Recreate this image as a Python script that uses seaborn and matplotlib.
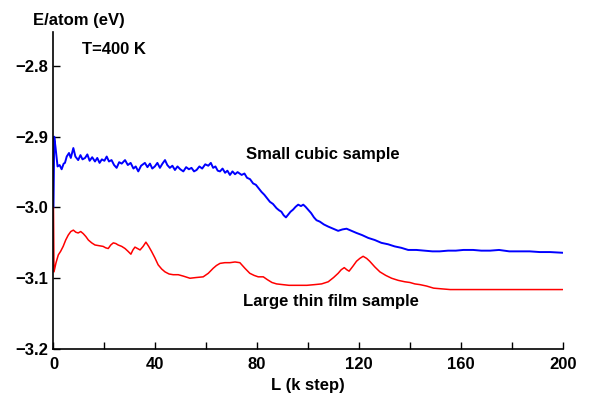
import matplotlib
matplotlib.use("Agg")
import matplotlib.pyplot as plt
import seaborn as sns
import pandas as pd
from matplotlib.ticker import MultipleLocator

# ---- data ----
blue_x = [0, 0.3, 0.8, 1.6, 2.4, 3.2, 4.0, 4.5, 5.2, 6.1, 6.8, 7.8, 8.6, 9.7, 10.6, 11.4, 12.4,
          13.3, 14.2, 15.2, 16.3, 17.2, 18.1, 19.0, 20.0, 20.9, 21.8, 22.8, 23.8, 24.8, 25.8,
          26.8, 28.1, 29.2, 30.3, 31.4, 32.3, 33.3, 34.4, 35.9, 36.9, 37.9, 38.8, 39.8, 40.8,
          41.8, 42.8, 43.8, 44.7, 45.7, 46.7, 47.7, 48.7, 49.8, 51.0, 52.1, 53.2, 54.2, 55.2,
          56.2, 57.3, 58.4, 59.6, 60.8, 61.8, 62.7, 63.6, 64.5, 65.4, 66.4, 67.4, 68.3, 69.3,
          70.3, 71.3, 72.3, 73.9, 75.0, 76.0, 77.2, 78.4, 79.5, 80.6, 81.7, 82.8, 83.9, 85.0,
          86.2, 87.6, 88.6, 89.5, 90.4, 91.3, 92.2, 93.1, 94.1, 95.1, 96.1, 97.2, 98.1, 99.0,
          100.0, 101.2, 102.3, 103.3, 104.6, 106.2, 107.9, 109.8, 111.8, 113.5, 115.1, 117.0,
          119.0, 121.2, 123.6, 126.2, 128.8, 131.4, 134.0, 136.6, 139.3, 142.5, 145.8, 148.8,
          151.7, 155.0, 158.0, 161.0, 164.8, 168.0, 171.5, 175.0, 179.0, 183.1, 187.0, 191.0,
          195.0, 200.0]
blue_y = [-3.000, -2.900, -2.915, -2.942, -2.940, -2.946, -2.938, -2.937, -2.928, -2.923, -2.930,
          -2.916, -2.928, -2.933, -2.926, -2.932, -2.930, -2.925, -2.934, -2.929, -2.935, -2.930,
          -2.937, -2.932, -2.934, -2.928, -2.935, -2.933, -2.940, -2.944, -2.936, -2.938, -2.933,
          -2.940, -2.937, -2.945, -2.942, -2.949, -2.941, -2.937, -2.943, -2.938, -2.945, -2.942,
          -2.937, -2.944, -2.938, -2.933, -2.940, -2.944, -2.941, -2.947, -2.942, -2.946, -2.949,
          -2.943, -2.946, -2.944, -2.949, -2.947, -2.942, -2.945, -2.939, -2.941, -2.937, -2.944,
          -2.942, -2.948, -2.949, -2.945, -2.951, -2.948, -2.954, -2.949, -2.953, -2.950, -2.954,
          -2.952, -2.958, -2.960, -2.966, -2.968, -2.973, -2.978, -2.982, -2.987, -2.992, -2.995,
          -3.001, -3.004, -3.006, -3.011, -3.014, -3.010, -3.006, -3.003, -2.999, -2.996, -2.998,
          -2.996, -2.999, -3.003, -3.008, -3.014, -3.018, -3.020, -3.024, -3.027, -3.030, -3.033,
          -3.031, -3.030, -3.033, -3.036, -3.039, -3.043, -3.046, -3.050, -3.052, -3.055, -3.057,
          -3.060, -3.060, -3.061, -3.062, -3.062, -3.061, -3.061, -3.060, -3.060, -3.061, -3.061,
          -3.060, -3.062, -3.062, -3.062, -3.063, -3.063, -3.064]

red_x = [0, 0.2, 1.0, 1.9, 2.8, 3.8, 4.8, 5.8, 6.8, 7.8, 8.8, 9.7, 10.7, 11.7, 12.7, 13.7, 15.0,
         16.3, 17.9, 19.5, 20.5, 21.5, 22.5, 23.5, 24.5, 25.4, 26.8, 28.1, 29.3, 30.4, 31.2,
         32.0, 33.0, 34.0, 35.2, 36.3, 37.4, 38.5, 39.8, 41.1, 42.5, 43.8, 45.4, 47.0, 49.0,
         51.0, 53.6, 56.0, 58.8, 60.8, 62.7, 64.0, 65.4, 67.3, 69.3, 71.3, 73.2, 75.2, 77.1,
         78.8, 80.4, 82.4, 84.0, 85.8, 87.6, 90.0, 92.5, 94.8, 97.0, 99.5, 102.6, 105.3, 107.9,
         110.0, 111.8, 113.0, 114.2, 115.2, 116.1, 117.6, 119.0, 120.3, 121.6, 123.0, 124.2,
         126.2, 128.2, 130.5, 132.8, 135.4, 138.0, 140.0, 141.9, 143.9, 146.5, 149.3, 152.5,
         155.8, 160.0, 200.0]
red_y = [-3.000, -3.091, -3.078, -3.067, -3.062, -3.055, -3.046, -3.039, -3.034, -3.032, -3.035,
         -3.036, -3.034, -3.037, -3.041, -3.046, -3.050, -3.053, -3.054, -3.055, -3.057, -3.058,
         -3.053, -3.050, -3.051, -3.053, -3.055, -3.058, -3.062, -3.066, -3.060, -3.056, -3.058,
         -3.060, -3.055, -3.049, -3.055, -3.062, -3.071, -3.081, -3.087, -3.091, -3.094, -3.095,
         -3.095, -3.097, -3.100, -3.099, -3.098, -3.093, -3.086, -3.082, -3.079, -3.078, -3.078,
         -3.077, -3.078, -3.086, -3.093, -3.096, -3.098, -3.098, -3.102, -3.106, -3.108, -3.109,
         -3.110, -3.110, -3.110, -3.110, -3.109, -3.108, -3.105, -3.099, -3.093, -3.088, -3.085,
         -3.088, -3.090, -3.083, -3.076, -3.072, -3.069, -3.072, -3.076, -3.084, -3.091, -3.096,
         -3.100, -3.103, -3.105, -3.106, -3.108, -3.109, -3.111, -3.114, -3.115, -3.116, -3.116,
         -3.116]

series_names = ["Small cubic sample", "Large thin film sample"]
x_ticks = [0, 40, 80, 120, 160, 200]
y_ticks = [-3.2, -3.1, -3.0, -2.9, -2.8]

df = pd.concat([
    pd.DataFrame({"L": blue_x, "E": blue_y, "s": series_names[0]}),
    pd.DataFrame({"L": red_x, "E": red_y, "s": series_names[1]}),
], ignore_index=True)

sns.set_style("ticks")
plt.rcParams["font.family"] = ["Liberation Sans", "DejaVu Sans"]
plt.rcParams["font.weight"] = "bold"
plt.rcParams["text.color"] = "black"
plt.rcParams["axes.labelcolor"] = "black"

FS = 12

fig = plt.figure(figsize=(5.89, 3.94), dpi=100)
ax = fig.add_axes([0.0908, 0.1142, 0.8646, 0.8046])

sns.lineplot(data=df[df.s == series_names[0]], x="L", y="E", estimator=None, sort=False,
             color="#0000ff", lw=1.4, ax=ax, legend=False)
sns.lineplot(data=df[df.s == series_names[1]], x="L", y="E", estimator=None, sort=False,
             color="#ff0000", lw=1.1, ax=ax, legend=False)

ax.set_xlim(0, 200)
ax.set_ylim(-3.2, -2.752)
ax.set_xticks(x_ticks)
ax.set_xticklabels([str(t) for t in x_ticks])
ax.xaxis.set_minor_locator(MultipleLocator(20))
ax.set_yticks(y_ticks)
ax.set_yticklabels(["\u22123.2", "\u22123.1", "\u22123.0", "\u22122.9", "\u22122.8"])

for s in ["top", "right"]:
    ax.spines[s].set_visible(False)
for s in ["left", "bottom"]:
    ax.spines[s].set_linewidth(1.2)
    ax.spines[s].set_color("black")

ax.tick_params(axis="both", which="both", direction="in", length=5, width=1.0,
               color="black", labelsize=FS, labelcolor="black")
ax.tick_params(axis="x", pad=6)
ax.tick_params(axis="y", pad=4)
for lab in ax.get_xticklabels() + ax.get_yticklabels():
    lab.set_fontweight("bold")

ax.set_xlabel("L (k step)", fontsize=FS, fontweight="bold", labelpad=4, color="black")
ax.set_ylabel("")

fig.text(33 / 589, 1 - 21 / 394, "E/atom (eV)", fontsize=FS, fontweight="bold",
         ha="left", va="center", color="black")
fig.text(82 / 589, 1 - 49 / 394, "T=400 K", fontsize=FS, fontweight="bold",
         ha="left", va="center", color="black")
ax.text(75.5, -2.9255, series_names[0], fontsize=FS, fontweight="bold", ha="left",
        va="center", color="black")
ax.text(74.5, -3.1335, series_names[1], fontsize=FS, fontweight="bold", ha="left",
        va="center", color="black")

fig.savefig("out.png", dpi=100)
